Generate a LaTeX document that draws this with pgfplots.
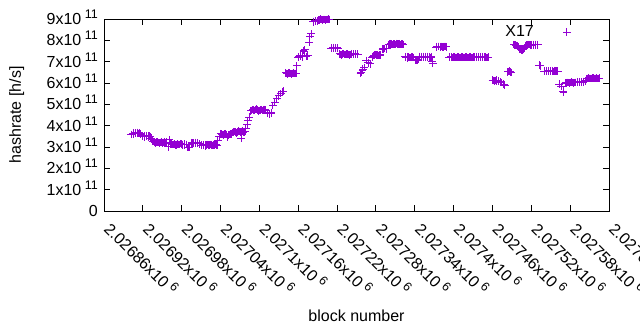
\documentclass[border=0pt]{standalone}
\usepackage{pgfplots}
\pgfplotsset{compat=1.18}
\usepackage{fontspec}
\setmainfont{Liberation Sans}
\definecolor{gpviolet}{HTML}{9400D3}
\newcommand{\sci}[2]{#1x10\hspace{3.5bp}\smash{\raisebox{6bp}{\fontsize{12.5bp}{12.5bp}\selectfont #2}}}
\pgfplotsset{gppts/.style={only marks, mark=+, mark size=3.8bp, color=gpviolet, mark options={line width=1bp}}}
\begin{document}
\fontsize{16bp}{19bp}\selectfont
\begin{tikzpicture}
\useasboundingbox (0,0) rectangle (640bp,330bp);
\begin{axis}[
  at={(104bp,119bp)}, anchor=south west,
  scale only axis, width=505bp, height=192bp,
  xmin=2026860, xmax=2027640, ymin=0, ymax=9e11,
  clip=false,
  scaled x ticks=false, scaled y ticks=false,
  axis line style={line width=1bp, black},
  major tick style={line width=1bp, black},
  major tick length=6bp,
  tick align=inside,
  xtick pos=both, ytick pos=both,
  xtick={2026860,2026920,2026980,2027040,2027100,2027160,2027220,2027280,2027340,2027400,2027460,2027520,2027580,2027640},
  xticklabels={\sci{2.02686}{6},\sci{2.02692}{6},\sci{2.02698}{6},\sci{2.02704}{6},\sci{2.0271}{6},\sci{2.02716}{6},\sci{2.02722}{6},\sci{2.02728}{6},\sci{2.02734}{6},\sci{2.0274}{6},\sci{2.02746}{6},\sci{2.02752}{6},\sci{2.02758}{6},\sci{2.02764}{6}},
  xticklabel style={anchor=west, inner sep=0pt, xshift=3bp, rotate=-45},
  xticklabel shift=15bp,
  ytick={0,1e11,2e11,3e11,4e11,5e11,6e11,7e11,8e11,9e11},
  yticklabels={0,\sci{1}{11},\sci{2}{11},\sci{3}{11},\sci{4}{11},\sci{5}{11},\sci{6}{11},\sci{7}{11},\sci{8}{11},\sci{9}{11}},
  yticklabel style={anchor=east, inner sep=0pt, xshift=-6bp},
  xlabel={block number},
  xlabel style={at={(axis description cs:0.5,-0.547)}, anchor=center},
  ylabel={hashrate [h/s]},
  ylabel style={at={(axis description cs:-0.173,0.5)}, anchor=center},
]
\addplot[gppts] table {
x y
2026902 3.59e11
2026905 3.62e11
2026908 3.66e11
2026911 3.68e11
2026914 3.64e11
2026916 3.62e11
2026917 3.58e11
2026919 3.52e11
2026922 3.48e11
2026925 3.53e11
2026928 3.47e11
2026931 3.51e11
2026933 3.41e11
2026935 3.27e11
2026937 3.25e11
2026940 3.20e11
2026943 3.23e11
2026946 3.19e11
2026949 3.24e11
2026952 3.21e11
2026955 3.18e11
2026957 3.23e11
2026959 3.01e11
2026961 3.33e11
2026963 3.15e11
2026966 3.11e11
2026969 3.14e11
2026972 3.09e11
2026975 3.12e11
2026978 3.16e11
2026981 3.10e11
2026984 3.13e11
2026987 3.11e11
2026989 2.97e11
2026992 3.00e11
2026995 3.20e11
2026998 3.16e11
2027001 3.21e11
2027004 3.17e11
2027007 3.15e11
2027010 3.08e11
2027013 3.11e11
2027016 3.06e11
2027019 3.10e11
2027022 3.08e11
2027025 3.12e11
2027028 3.07e11
2027031 3.09e11
2027034 3.10e11
2027036 3.30e11
2027038 3.47e11
2027040 3.62e11
2027042 3.60e11
2027045 3.55e11
2027048 3.62e11
2027051 3.44e11
2027053 3.57e11
2027056 3.60e11
2027059 3.68e11
2027062 3.72e11
2027065 3.66e11
2027068 3.74e11
2027071 3.70e11
2027072 3.41e11
2027074 3.76e11
2027077 3.71e11
2027079 3.85e11
2027081 4.05e11
2027082 4.25e11
2027084 4.40e11
2027087 4.70e11
2027090 4.75e11
2027093 4.72e11
2027096 4.77e11
2027099 4.70e11
2027102 4.74e11
2027105 4.71e11
2027108 4.76e11
2027110 4.72e11
2027112 4.60e11
2027115 4.55e11
2027118 4.60e11
2027121 4.95e11
2027124 5.10e11
2027127 5.28e11
2027130 5.40e11
2027133 5.50e11
2027135 5.59e11
2027137 5.62e11
2027141 6.47e11
2027144 6.43e11
2027147 6.48e11
2027150 6.42e11
2027153 6.46e11
2027156 6.44e11
2027158 6.80e11
2027160 7.20e11
2027163 7.28e11
2027166 7.22e11
2027168 7.52e11
2027170 7.55e11
2027173 7.24e11
2027175 7.30e11
2027177 7.90e11
2027178 8.16e11
2027180 8.30e11
2027183 8.87e11
2027186 8.91e11
2027189 8.88e11
2027192 8.95e11
2027195 8.99e11
2027198 8.96e11
2027201 8.98e11
2027204 8.97e11
2027207 8.99e11
2027211 7.62e11
2027214 7.66e11
2027217 7.63e11
2027220 7.65e11
2027224 7.36e11
2027227 7.32e11
2027230 7.38e11
2027233 7.33e11
2027236 7.35e11
2027239 7.31e11
2027242 7.37e11
2027245 7.34e11
2027248 7.36e11
2027251 7.33e11
2027256 6.44e11
2027259 6.60e11
2027262 6.72e11
2027265 7.06e11
2027268 6.95e11
2027271 6.90e11
2027274 7.20e11
2027277 7.28e11
2027280 7.33e11
2027283 7.30e11
2027286 7.32e11
2027290 7.58e11
2027293 7.62e11
2027296 7.60e11
2027300 7.80e11
2027303 7.84e11
2027306 7.81e11
2027309 7.83e11
2027312 7.85e11
2027315 7.82e11
2027318 7.80e11
2027321 7.83e11
2027325 7.22e11
2027328 7.18e11
2027331 7.21e11
2027334 7.19e11
2027337 7.22e11
2027341 7.08e11
2027344 7.06e11
2027347 7.24e11
2027350 7.21e11
2027353 7.25e11
2027356 7.22e11
2027359 7.24e11
2027362 7.21e11
2027365 7.20e11
2027367 7.00e11
2027368 6.92e11
2027373 7.68e11
2027376 7.72e11
2027379 7.69e11
2027382 7.71e11
2027385 7.70e11
2027388 7.72e11
2027393 7.20e11
2027396 7.22e11
2027399 7.19e11
2027402 7.21e11
2027405 7.20e11
2027408 7.22e11
2027411 7.19e11
2027414 7.21e11
2027417 7.20e11
2027420 7.22e11
2027423 7.19e11
2027426 7.21e11
2027429 7.20e11
2027432 7.22e11
2027435 7.19e11
2027438 7.21e11
2027441 7.20e11
2027444 7.22e11
2027447 7.19e11
2027450 7.21e11
2027453 7.20e11
2027460 6.14e11
2027463 6.10e11
2027466 6.13e11
2027469 6.08e11
2027472 6.05e11
2027474 6.02e11
2027477 5.95e11
2027479 5.90e11
2027484 6.52e11
2027487 6.55e11
2027489 6.50e11
2027493 7.80e11
2027496 7.77e11
2027499 7.75e11
2027502 7.60e11
2027505 7.55e11
2027508 7.58e11
2027511 7.76e11
2027514 7.79e11
2027517 7.80e11
2027520 7.78e11
2027523 7.81e11
2027526 7.79e11
2027529 7.80e11
2027532 6.84e11
2027534 6.80e11
2027540 6.56e11
2027543 6.53e11
2027546 6.57e11
2027549 6.54e11
2027552 6.55e11
2027555 6.53e11
2027558 6.56e11
2027560 6.54e11
2027563 5.95e11
2027566 5.83e11
2027569 5.62e11
2027570 5.55e11
2027573 6.00e11
2027575 8.38e11
2027576 6.03e11
2027579 5.99e11
2027582 6.04e11
2027585 6.01e11
2027588 6.03e11
2027591 6.02e11
2027594 6.05e11
2027597 6.03e11
2027600 6.06e11
2027603 6.08e11
2027606 6.20e11
2027609 6.23e11
2027612 6.21e11
2027615 6.24e11
2027618 6.22e11
2027621 6.23e11
2027624 6.22e11
};
\addplot[gppts] table {
x y
2026906 3.65e11
2026909 3.63e11
2026912 3.67e11
2026915 3.66e11
2026920 3.50e11
2026923 3.52e11
2026926 3.49e11
2026929 3.51e11
2026932 3.48e11
2026938 3.22e11
2026941 3.24e11
2026944 3.21e11
2026947 3.22e11
2026950 3.20e11
2026953 3.23e11
2026956 3.21e11
2026964 3.13e11
2026967 3.12e11
2026970 3.10e11
2026973 3.14e11
2026976 3.11e11
2026979 3.13e11
2026982 3.12e11
2026985 3.10e11
2026988 3.12e11
2026990 2.98e11
2026996 3.18e11
2026999 3.19e11
2027002 3.17e11
2027005 3.19e11
2027011 3.09e11
2027014 3.10e11
2027017 3.08e11
2027020 3.11e11
2027023 3.09e11
2027026 3.10e11
2027029 3.08e11
2027032 3.11e11
2027035 3.09e11
2027043 3.58e11
2027046 3.61e11
2027049 3.58e11
2027054 3.59e11
2027057 3.62e11
2027060 3.70e11
2027063 3.69e11
2027066 3.71e11
2027069 3.72e11
2027073 3.73e11
2027075 3.69e11
2027078 3.72e11
2027088 4.72e11
2027091 4.73e11
2027094 4.75e11
2027097 4.73e11
2027100 4.72e11
2027103 4.75e11
2027106 4.73e11
2027109 4.74e11
2027113 4.58e11
2027116 4.57e11
2027119 4.59e11
2027142 6.45e11
2027145 6.46e11
2027148 6.44e11
2027151 6.45e11
2027154 6.44e11
2027157 6.46e11
2027161 7.23e11
2027164 7.25e11
2027167 7.26e11
2027169 7.50e11
2027174 7.27e11
2027184 8.89e11
2027187 8.90e11
2027190 8.92e11
2027193 8.96e11
2027196 8.97e11
2027199 8.98e11
2027202 8.96e11
2027205 8.98e11
2027208 8.97e11
2027212 7.64e11
2027215 7.63e11
2027218 7.65e11
2027221 7.64e11
2027225 7.34e11
2027228 7.35e11
2027231 7.33e11
2027234 7.36e11
2027237 7.34e11
2027240 7.33e11
2027243 7.35e11
2027246 7.36e11
2027249 7.34e11
2027252 7.35e11
2027257 6.50e11
2027260 6.65e11
2027275 7.25e11
2027278 7.30e11
2027281 7.31e11
2027284 7.29e11
2027287 7.31e11
2027291 7.60e11
2027294 7.61e11
2027297 7.62e11
2027301 7.82e11
2027304 7.83e11
2027307 7.82e11
2027310 7.81e11
2027313 7.83e11
2027316 7.84e11
2027319 7.82e11
2027322 7.81e11
2027326 7.20e11
2027329 7.21e11
2027332 7.20e11
2027335 7.21e11
2027338 7.20e11
2027342 7.07e11
2027345 7.10e11
2027348 7.23e11
2027351 7.23e11
2027354 7.22e11
2027357 7.23e11
2027360 7.22e11
2027363 7.23e11
2027366 7.22e11
2027374 7.70e11
2027377 7.71e11
2027380 7.70e11
2027383 7.69e11
2027386 7.71e11
2027389 7.70e11
2027394 7.21e11
2027397 7.20e11
2027400 7.21e11
2027403 7.20e11
2027406 7.21e11
2027409 7.20e11
2027412 7.21e11
2027415 7.20e11
2027418 7.21e11
2027421 7.20e11
2027424 7.21e11
2027427 7.20e11
2027430 7.21e11
2027433 7.20e11
2027436 7.21e11
2027439 7.20e11
2027442 7.21e11
2027445 7.20e11
2027448 7.21e11
2027451 7.20e11
2027454 7.21e11
2027461 6.12e11
2027464 6.11e11
2027467 6.10e11
2027470 6.07e11
2027473 6.03e11
2027478 5.92e11
2027485 6.53e11
2027488 6.52e11
2027494 7.79e11
2027497 7.76e11
2027500 7.70e11
2027503 7.58e11
2027506 7.56e11
2027509 7.62e11
2027512 7.77e11
2027515 7.80e11
2027518 7.79e11
2027521 7.80e11
2027524 7.79e11
2027527 7.81e11
2027530 7.79e11
2027533 6.82e11
2027541 6.55e11
2027544 6.55e11
2027547 6.54e11
2027550 6.56e11
2027553 6.54e11
2027556 6.55e11
2027559 6.55e11
2027561 6.55e11
2027574 6.01e11
2027577 6.02e11
2027580 6.02e11
2027583 6.03e11
2027586 6.02e11
2027589 6.03e11
2027592 6.04e11
2027595 6.04e11
2027598 6.05e11
2027601 6.07e11
2027604 6.10e11
2027607 6.21e11
2027610 6.22e11
2027613 6.22e11
2027616 6.23e11
2027619 6.22e11
2027622 6.22e11
2027625 6.23e11
};
\node[font=\fontsize{16bp}{19bp}\selectfont] at (axis cs:2027502,8.42e11) {X17};
\end{axis}
\end{tikzpicture}
\end{document}
